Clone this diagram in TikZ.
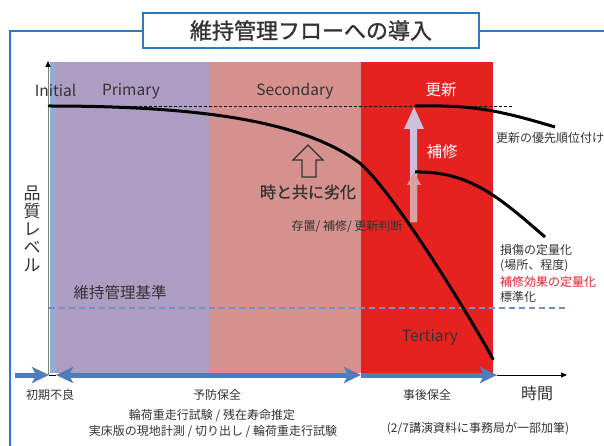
\documentclass[tikz,border=0pt]{standalone}
\usepackage{fontspec}
\setmainfont{Noto Sans CJK JP}
\newfontfamily\heavyfont[FakeBold=1.2]{Noto Sans CJK JP}
\usetikzlibrary{arrows.meta}
\definecolor{framec}{HTML}{2B7BC3}
\definecolor{purp}{HTML}{AE9DC3}
\definecolor{pinkc}{HTML}{D4918D}
\definecolor{redc}{HTML}{E52220}
\definecolor{stripc}{HTML}{91AED4}
\definecolor{axblue}{HTML}{4E7DB9}
\definecolor{lav}{HTML}{CBC1DB}
\definecolor{lpink}{HTML}{DBA0A3}
\definecolor{txt}{HTML}{333333}
\definecolor{dblue}{HTML}{6F93C9}
\definecolor{redtxt}{HTML}{E8202A}
\begin{document}
\begin{tikzpicture}[x=1pt,y=-1pt,
  lbl/.style={font=\fontsize{12}{14}\selectfont, text=txt, inner sep=0pt},
  big/.style={font=\fontsize{16}{18}\selectfont, text=txt, inner sep=0pt},
  wlbl/.style={font=\fontsize{15.5}{18}\selectfont, text=white, inner sep=0pt},
  barrow/.style={axblue, line width=5pt, {-Stealth[length=17pt,width=16pt,inset=4pt]}},
  curve/.style={black, line width=3pt, line cap=round}]
\useasboundingbox (0,0) rectangle (604,446);
% background bands
\fill[purp] (56,62) rectangle (209,373);
\fill[pinkc] (209,62) rectangle (361,373);
\fill[redc] (361,62) rectangle (493,373);
\fill[stripc] (49.5,62) rectangle (56,373);
% y axis
\draw[gray, line width=0.8pt, -{Triangle[length=6pt,width=5pt,black]}] (48,375) -- (48,61);
% frame and title
\node[draw=framec, line width=1.5pt, fill=white, minimum width=336pt, minimum height=35pt, inner sep=0pt,
  font=\heavyfont\fontsize{22}{24}\selectfont, text=txt] (title) at (311,30.5) {維持管理フローへの導入};
\coordinate (fbl) at (10,446);
\coordinate (ftl) at (10,31);
\coordinate (ftr) at (604,31);
\draw[framec, line width=1.5pt] (fbl) -- (ftl) -- (title.west |- ftl);
\draw[framec, line width=1.5pt] (title.east |- ftr) -- (ftr);
% reference lines
\draw[black, line width=0.6pt, dash pattern=on 3pt off 2pt] (49,106) -- (513,106);
\draw[dblue, line width=1.3pt, dash pattern=on 6pt off 4pt] (49,308) -- (567,308);
% deterioration curve
\draw[curve] (49,106) .. controls (200,106) and (305,121) .. (361,164)
  .. controls (395,195) and (466,310) .. (493,359);
% repair / renewal arrows
\fill[lav] (410,222) -- (410,129) -- (404,129) -- (414,107) -- (424,129) -- (417,129) -- (417,222) -- cycle;
\fill[lpink] (410,222) -- (410,185) -- (407,185) -- (414,172) -- (421,185) -- (417,185) -- (417,222) -- cycle;
\draw[curve, line cap=butt] (415,106) .. controls (470,105) and (495,109) .. (555,127);
\draw[curve, line cap=butt] (415,172) .. controls (470,171) and (500,198) .. (545,237);
% hollow arrow
\draw[txt, line width=1.4pt, line join=miter] (302,177) -- (302,160) -- (293,160) -- (308,145) -- (323,160) -- (316,160) -- (316,177) -- cycle;
% band labels
\node[big, font=\fontsize{15.5}{18}\selectfont] (initial) at (55.5,90) {Initial};
\node[big, font=\fontsize{15.5}{18}\selectfont] (primary) at (131,91) {Primary};
\node[big, font=\fontsize{15.5}{18}\selectfont] (secondary) at (295,91) {Secondary};
\node[big, font=\fontsize{15.5}{18}\selectfont] (tertiary) at (430,337) {Tertiary};
\node[wlbl] (koushin) at (441,90) {更新};
\node[wlbl] (hoshu) at (442,152) {補修};
\node[big, font=\heavyfont\fontsize{16}{18}\selectfont] (rekka) at (308,192) {時と共に劣化};
\node[lbl] (handan) at (347,227) {存置/ 補修/ 更新判断};
\node[lbl, anchor=west] (yusen) at (496,138) {更新の優先順位付け};
\node[lbl, anchor=west] (teiryo) at (500,250) {損傷の定量化};
\node[lbl, anchor=west] (basho) at (500,266) {(場所、程度)};
\node[lbl, anchor=west, text=redtxt] (kouka) at (500,282) {補修効果の定量化};
\node[lbl, anchor=west] (hyoujun) at (500,297) {標準化};
\node[big, font=\fontsize{15.5}{18}\selectfont] (kijun) at (120,293) {維持管理基準};
\node[big, font=\fontsize{17}{18}\selectfont, align=center] (hinshitsu) at (32,229) {品\\質\\レ\\ベ\\ル};
% time axis
\coordinate (t0) at (15,375);
\coordinate (t1) at (49,375);
\coordinate (t2) at (56,375);
\coordinate (t3) at (361,375);
\coordinate (t4) at (497,375);
\coordinate (t5) at (567,375);
\draw[black, line width=0.8pt] (t1) -- (t2);
\draw[barrow] (t0) -- (t1);
\draw[axblue, line width=5pt, {Stealth[length=17pt,width=16pt,inset=4pt]-Stealth[length=17pt,width=16pt,inset=4pt]}] (t2) -- (t3);
\draw[barrow] (t3) -- (t4);
\draw[black, line width=0.8pt, -{Triangle[length=6pt,width=5pt]}] (t4) -- (t5);
% axis labels
\node[lbl] (shoki) at (50,395) {初期不良};
\node[lbl] (yobou) at (217,395) {予防保全};
\node[lbl] (jigo) at (427,395) {事後保全};
\node[big] (jikan) at (537,393) {時間};
\node[lbl] (line1) at (212,415) {輪荷重走行試験 / 残在寿命推定};
\node[lbl] (line2) at (213,432) {実床版の現地計測 / 切り出し / 輪荷重走行試験};
\node[lbl] (note) at (478,429) {(2/7講演資料に事務局が一部加筆)};
\end{tikzpicture}
\end{document}
